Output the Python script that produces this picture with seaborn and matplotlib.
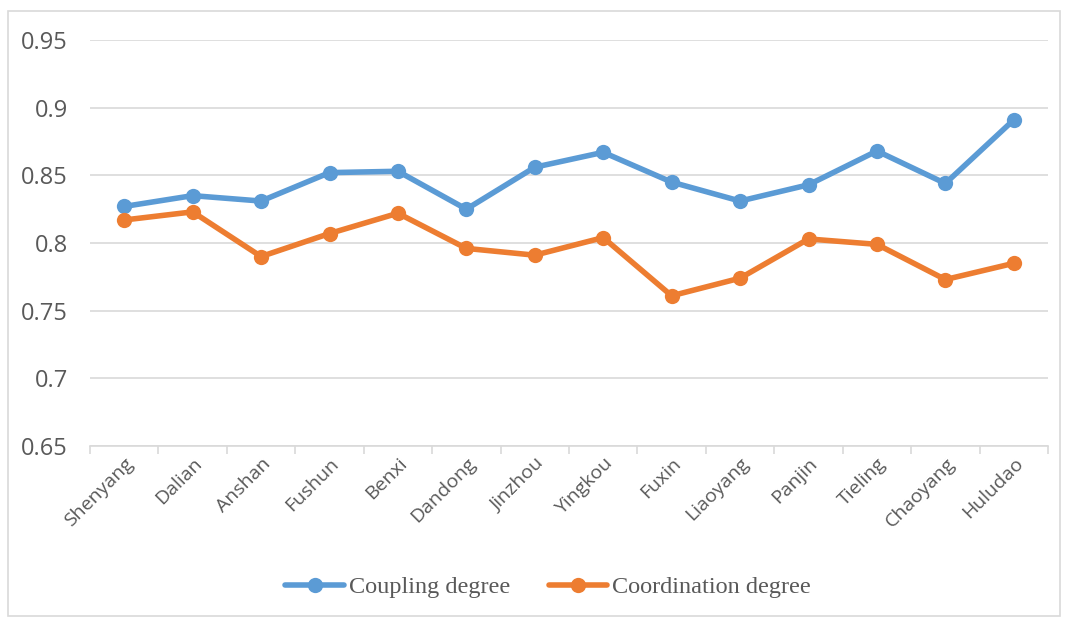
import pandas as pd
import matplotlib
matplotlib.use("Agg")
import matplotlib.pyplot as plt
import seaborn as sns
from matplotlib.patches import Rectangle

cities = ["Shenyang", "Dalian", "Anshan", "Fushun", "Benxi", "Dandong", "Jinzhou",
          "Yingkou", "Fuxin", "Liaoyang", "Panjin", "Tieling", "Chaoyang", "Huludao"]
coupling = [0.827, 0.835, 0.831, 0.852, 0.853, 0.825, 0.856,
            0.867, 0.845, 0.831, 0.843, 0.868, 0.844, 0.891]
coordination = [0.817, 0.823, 0.790, 0.807, 0.822, 0.796, 0.791,
                0.804, 0.761, 0.774, 0.803, 0.799, 0.773, 0.785]
yticks = [0.65, 0.7, 0.75, 0.8, 0.85, 0.9, 0.95]
ytick_labels = ["0.65", "0.7", "0.75", "0.8", "0.85", "0.9", "0.95"]

df = pd.DataFrame({"city": cities, "Coupling degree": coupling,
                   "Coordination degree": coordination})
long = df.melt(id_vars="city", var_name="series", value_name="value")
long["pos"] = long["city"].map({c: i for i, c in enumerate(cities)})

sns.set_style("white")
plt.rcParams["font.family"] = ["Open Sans", "DejaVu Sans"]

fig = plt.figure(figsize=(10.67, 6.21), dpi=100)
ax = fig.add_axes([90 / 1067, 1 - 446 / 621, 958 / 1067, 406 / 621])

sns.lineplot(data=long, x="pos", y="value", hue="series",
             palette=["#5b9bd5", "#ed7d31"], marker="o", markersize=11,
             markeredgewidth=0, linewidth=4, ax=ax, legend=True)

ax.set_xlim(-0.5, len(cities) - 0.5)
ax.set_ylim(0.65, 0.95)
ax.set_yticks(yticks)
ax.set_yticklabels(ytick_labels)
ax.yaxis.grid(True, color="#d9d9d9", linewidth=1.2)
ax.set_axisbelow(True)
ax.set_xticks(range(len(cities)))
ax.set_xticklabels(cities, rotation=45, ha="right", rotation_mode="anchor")
ax.set_xticks([i - 0.5 for i in range(len(cities) + 1)], minor=True)
ax.tick_params(axis="x", which="major", bottom=True, length=0, pad=6,
               labelsize=14, colors="#595959")
ax.tick_params(axis="x", which="minor", bottom=True, length=6, width=1.2,
               color="#d9d9d9", direction="out")
ax.tick_params(axis="y", length=0, labelsize=17, colors="#595959", pad=16)
ax.set_xlabel("")
ax.set_ylabel("")
for s in ["top", "right", "left"]:
    ax.spines[s].set_visible(False)
ax.spines["bottom"].set_color("#d9d9d9")
ax.spines["bottom"].set_linewidth(1.2)

handles, labels = ax.get_legend_handles_labels()
ax.legend(handles, labels, loc="center", bbox_to_anchor=(548 / 1067, 1 - 587 / 621),
          bbox_transform=fig.transFigure, ncol=2, frameon=False, handlelength=2.4,
          handletextpad=0.2, columnspacing=1.6,
          prop={"family": "Liberation Serif", "size": 17.5}, labelcolor="#595959")

fig.patches.append(Rectangle((8 / 1067, 1 - 616 / 621), 1052 / 1067, 605 / 621,
                             transform=fig.transFigure, fill=False,
                             edgecolor="#d9d9d9", linewidth=1.2))

fig.savefig("out.png", dpi=100)
